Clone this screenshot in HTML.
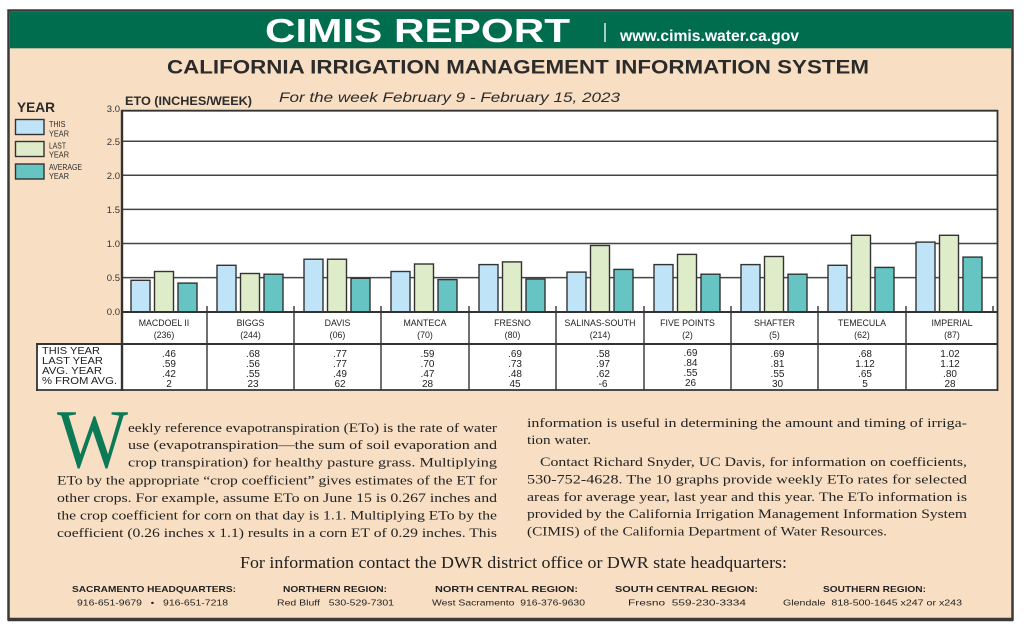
<!DOCTYPE html>
<html><head><meta charset="utf-8"><style>
html,body{margin:0;padding:0;background:#fff;}
svg{display:block;}
.s{font-family:"Liberation Sans",Arial,sans-serif;}
.r{font-family:"Liberation Serif","Times New Roman",serif;}
</style></head><body>
<svg width="1024" height="629" viewBox="0 0 1024 629" xmlns="http://www.w3.org/2000/svg">
<rect x="0" y="0" width="1024" height="629" fill="#fff"/>
<!-- frame -->
<rect x="8.5" y="10.5" width="1004" height="609" fill="#f8dfc4" stroke="#3a3a3a" stroke-width="2.5"/>
<line x1="8" y1="619.5" x2="1013" y2="619.5" stroke="#3a3a3a" stroke-width="3.5"/>
<rect x="9.8" y="11.8" width="1001.5" height="36.5" fill="#006d4f"/>
<text class="s" x="265" y="42" font-size="33" font-weight="bold" fill="#fff" textLength="305" lengthAdjust="spacingAndGlyphs">CIMIS REPORT</text>
<line x1="605" y1="23" x2="605" y2="42" stroke="#fff" stroke-width="1.3"/>
<text class="s" x="620" y="41" font-size="15.5" font-weight="bold" fill="#fff" textLength="179" lengthAdjust="spacingAndGlyphs">www.cimis.water.ca.gov</text>
<text class="s" x="167" y="73.5" font-size="19.5" font-weight="bold" fill="#2b2b2b" textLength="702" lengthAdjust="spacingAndGlyphs">CALIFORNIA IRRIGATION MANAGEMENT INFORMATION SYSTEM</text>

<!-- legend -->
<text class="s" x="17" y="112" font-size="14" font-weight="bold" fill="#2b2b2b" textLength="38" lengthAdjust="spacingAndGlyphs">YEAR</text>
<rect x="15.5" y="119.5" width="28.5" height="15" fill="#bfe3f7" stroke="#333" stroke-width="1.4"/>
<rect x="15.5" y="141.5" width="28.5" height="15" fill="#deecc9" stroke="#333" stroke-width="1.4"/>
<rect x="15.5" y="164" width="28.5" height="15" fill="#66c5c3" stroke="#333" stroke-width="1.4"/>
<g class="s" font-size="8" fill="#2b2b2b">
<text x="49" y="127" textLength="16.5" lengthAdjust="spacingAndGlyphs">THIS</text>
<text x="49" y="136.5" textLength="20" lengthAdjust="spacingAndGlyphs">YEAR</text>
<text x="49" y="148.5" textLength="17" lengthAdjust="spacingAndGlyphs">LAST</text>
<text x="49" y="157.5" textLength="20" lengthAdjust="spacingAndGlyphs">YEAR</text>
<text x="49" y="170" textLength="33" lengthAdjust="spacingAndGlyphs">AVERAGE</text>
<text x="49" y="179" textLength="20" lengthAdjust="spacingAndGlyphs">YEAR</text>
</g>

<!-- chart titles -->
<text class="s" x="125" y="105" font-size="11.6" font-weight="bold" fill="#2b2b2b" textLength="127" lengthAdjust="spacingAndGlyphs">ETO (INCHES/WEEK)</text>
<text class="s" x="279" y="101.8" font-size="14" font-style="italic" fill="#2b2b2b" textLength="341" lengthAdjust="spacingAndGlyphs">For the week February 9 - February 15, 2023</text>

<!-- plot area -->
<rect x="122" y="110.5" width="875" height="201.5" fill="#fff"/>
<rect x="122" y="312" width="876" height="32" fill="#fff"/>
<rect x="37" y="344" width="961" height="46" fill="#fff"/>
<g stroke="#444" stroke-width="1.5">
<line x1="122" y1="277.6" x2="997" y2="277.6"/>
<line x1="122" y1="243.5" x2="997" y2="243.5"/>
<line x1="122" y1="209.4" x2="997" y2="209.4"/>
<line x1="122" y1="175.3" x2="997" y2="175.3"/>
<line x1="122" y1="141.2" x2="997" y2="141.2"/>
</g>
<line x1="121" y1="110.7" x2="998" y2="110.7" stroke="#333" stroke-width="1.8"/>
<line x1="997.5" y1="110" x2="997.5" y2="391" stroke="#333" stroke-width="1.8"/>

<g class="s" font-size="9.5" fill="#333" text-anchor="end">
<text x="120" y="112">3.0</text>
<text x="120" y="145">2.5</text>
<text x="120" y="179">2.0</text>
<text x="120" y="213">1.5</text>
<text x="120" y="247">1.0</text>
<text x="120" y="281">0.5</text>
<text x="120" y="315">0.0</text>
</g>

<!-- bars -->
<g stroke="#333" stroke-width="1.4">
<rect x="131" y="280.3" width="19" height="31.4" fill="#bfe3f7"/>
<rect x="154.5" y="271.5" width="19" height="40.2" fill="#deecc9"/>
<rect x="178" y="283.1" width="19" height="28.6" fill="#66c5c3"/>
<rect x="217" y="265.3" width="19" height="46.4" fill="#bfe3f7"/>
<rect x="240.5" y="273.5" width="19" height="38.2" fill="#deecc9"/>
<rect x="264" y="274.2" width="19" height="37.5" fill="#66c5c3"/>
<rect x="304" y="259.2" width="19" height="52.5" fill="#bfe3f7"/>
<rect x="327.5" y="259.2" width="19" height="52.5" fill="#deecc9"/>
<rect x="351" y="278.3" width="19" height="33.4" fill="#66c5c3"/>
<rect x="391" y="271.5" width="19" height="40.2" fill="#bfe3f7"/>
<rect x="414.5" y="264" width="19" height="47.7" fill="#deecc9"/>
<rect x="438" y="279.6" width="19" height="32.1" fill="#66c5c3"/>
<rect x="479" y="264.6" width="19" height="47.1" fill="#bfe3f7"/>
<rect x="502.5" y="261.9" width="19" height="49.8" fill="#deecc9"/>
<rect x="526" y="279" width="19" height="32.7" fill="#66c5c3"/>
<rect x="567" y="272.1" width="19" height="39.6" fill="#bfe3f7"/>
<rect x="590.5" y="245.5" width="19" height="66.2" fill="#deecc9"/>
<rect x="614" y="269.4" width="19" height="42.3" fill="#66c5c3"/>
<rect x="654" y="264.6" width="19" height="47.1" fill="#bfe3f7"/>
<rect x="677.5" y="254.4" width="19" height="57.3" fill="#deecc9"/>
<rect x="701" y="274.2" width="19" height="37.5" fill="#66c5c3"/>
<rect x="741" y="264.6" width="19" height="47.1" fill="#bfe3f7"/>
<rect x="764.5" y="256.5" width="19" height="55.2" fill="#deecc9"/>
<rect x="788" y="274.2" width="19" height="37.5" fill="#66c5c3"/>
<rect x="828" y="265.3" width="19" height="46.4" fill="#bfe3f7"/>
<rect x="851.5" y="235.3" width="19" height="76.4" fill="#deecc9"/>
<rect x="875" y="267.4" width="19" height="44.3" fill="#66c5c3"/>
<rect x="916" y="242.1" width="19" height="69.6" fill="#bfe3f7"/>
<rect x="939.5" y="235.3" width="19" height="76.4" fill="#deecc9"/>
<rect x="963" y="257.1" width="19" height="54.6" fill="#66c5c3"/>
</g>

<!-- axes & table lines -->
<line x1="121" y1="312" x2="998" y2="312" stroke="#333" stroke-width="2"/>
<line x1="122" y1="110" x2="122" y2="391" stroke="#333" stroke-width="2.4"/>
<line x1="36" y1="344" x2="998" y2="344" stroke="#333" stroke-width="2"/>
<line x1="36" y1="390" x2="998" y2="390" stroke="#333" stroke-width="1.8"/>
<line x1="37" y1="343" x2="37" y2="391" stroke="#333" stroke-width="1.8"/>
<g stroke="#333" stroke-width="1.4">
<line x1="207" y1="306" x2="207" y2="390"/>
<line x1="294" y1="306" x2="294" y2="390"/>
<line x1="381" y1="306" x2="381" y2="390"/>
<line x1="469" y1="306" x2="469" y2="390"/>
<line x1="556" y1="306" x2="556" y2="390"/>
<line x1="644" y1="306" x2="644" y2="390"/>
<line x1="731" y1="306" x2="731" y2="390"/>
<line x1="818" y1="306" x2="818" y2="390"/>
<line x1="906" y1="306" x2="906" y2="390"/>
<line x1="993" y1="306" x2="993" y2="312"/>
</g>

<!-- station labels -->
<g class="s" font-size="8.8" fill="#222" text-anchor="middle">
<text x="164" y="326">MACDOEL II</text><text x="164" y="338">(236)</text>
<text x="250.5" y="326">BIGGS</text><text x="250.5" y="338">(244)</text>
<text x="337.5" y="326">DAVIS</text><text x="337.5" y="338">(06)</text>
<text x="425" y="326">MANTECA</text><text x="425" y="338">(70)</text>
<text x="512.5" y="326">FRESNO</text><text x="512.5" y="338">(80)</text>
<text x="600" y="326">SALINAS-SOUTH</text><text x="600" y="338">(214)</text>
<text x="687.5" y="326">FIVE POINTS</text><text x="687.5" y="338">(2)</text>
<text x="774.5" y="326">SHAFTER</text><text x="774.5" y="338">(5)</text>
<text x="862" y="326">TEMECULA</text><text x="862" y="338">(62)</text>
<text x="952" y="326">IMPERIAL</text><text x="952" y="338">(87)</text>
</g>

<!-- table labels -->
<g class="s" font-size="10.5" fill="#222">
<text x="42" y="354" textLength="58" lengthAdjust="spacingAndGlyphs">THIS YEAR</text>
<text x="42" y="364" textLength="61" lengthAdjust="spacingAndGlyphs">LAST YEAR</text>
<text x="42" y="374" textLength="60" lengthAdjust="spacingAndGlyphs">AVG. YEAR</text>
<text x="42" y="384" textLength="75" lengthAdjust="spacingAndGlyphs">% FROM AVG.</text>
</g>
<g class="s" font-size="10" fill="#222" text-anchor="middle">
<text x="169" y="357">.46</text><text x="169" y="367">.59</text><text x="169" y="377">.42</text><text x="169" y="387">2</text>
<text x="253" y="357">.68</text><text x="253" y="367">.56</text><text x="253" y="377">.55</text><text x="253" y="387">23</text>
<text x="340" y="357">.77</text><text x="340" y="367">.77</text><text x="340" y="377">.49</text><text x="340" y="387">62</text>
<text x="427.5" y="357">.59</text><text x="427.5" y="367">.70</text><text x="427.5" y="377">.47</text><text x="427.5" y="387">28</text>
<text x="515" y="357">.69</text><text x="515" y="367">.73</text><text x="515" y="377">.48</text><text x="515" y="387">45</text>
<text x="603" y="357">.58</text><text x="603" y="367">.97</text><text x="603" y="377">.62</text><text x="603" y="387">-6</text>
<text x="690.5" y="356">.69</text><text x="690.5" y="366">.84</text><text x="690.5" y="376">.55</text><text x="690.5" y="386">26</text>
<text x="777.5" y="357">.69</text><text x="777.5" y="367">.81</text><text x="777.5" y="377">.55</text><text x="777.5" y="387">30</text>
<text x="865" y="357">.68</text><text x="865" y="367">1.12</text><text x="865" y="377">.65</text><text x="865" y="387">5</text>
<text x="950" y="357">1.02</text><text x="950" y="367">1.12</text><text x="950" y="377">.80</text><text x="950" y="387">28</text>
</g>

<!-- drop cap -->
<text class="r" x="57" y="467" font-size="84" fill="#0b7a55" textLength="71" lengthAdjust="spacingAndGlyphs">W</text>
<!-- body text left -->
<g class="r" font-size="13" fill="#222">
<text x="128" y="432" textLength="369" lengthAdjust="spacingAndGlyphs">eekly reference evapotranspiration (ETo) is the rate of water</text>
<text x="128" y="449" textLength="369" lengthAdjust="spacingAndGlyphs">use (evapotranspiration—the sum of soil evaporation and</text>
<text x="128" y="466.5" textLength="369" lengthAdjust="spacingAndGlyphs">crop transpiration) for healthy pasture grass. Multiplying</text>
<text x="57" y="484.5" textLength="440" lengthAdjust="spacingAndGlyphs">ETo by the appropriate “crop coefficient” gives estimates of the ET for</text>
<text x="57" y="502" textLength="440" lengthAdjust="spacingAndGlyphs">other crops. For example, assume ETo on June 15 is 0.267 inches and</text>
<text x="57" y="519.5" textLength="440" lengthAdjust="spacingAndGlyphs">the crop coefficient for corn on that day is 1.1. Multiplying ETo by the</text>
<text x="57" y="537" textLength="440" lengthAdjust="spacingAndGlyphs">coefficient (0.26 inches x 1.1) results in a corn ET of 0.29 inches. This</text>
</g>
<!-- body text right -->
<g class="r" font-size="13" fill="#222">
<text x="527" y="427" textLength="440" lengthAdjust="spacingAndGlyphs">information is useful in determining the amount and timing of irriga-</text>
<text x="527" y="444" textLength="64" lengthAdjust="spacingAndGlyphs">tion water.</text>
<text x="540" y="466" textLength="427" lengthAdjust="spacingAndGlyphs">Contact Richard Snyder, UC Davis, for information on coefficients,</text>
<text x="527" y="483.5" textLength="440" lengthAdjust="spacingAndGlyphs">530-752-4628. The 10 graphs provide weekly ETo rates for selected</text>
<text x="527" y="501" textLength="440" lengthAdjust="spacingAndGlyphs">areas for average year, last year and this year. The ETo information is</text>
<text x="527" y="518" textLength="440" lengthAdjust="spacingAndGlyphs">provided by the California Irrigation Management Information System</text>
<text x="527" y="535.5" textLength="360" lengthAdjust="spacingAndGlyphs">(CIMIS) of the California Department of Water Resources.</text>
</g>

<!-- footer -->
<text class="r" x="240" y="568" font-size="17" fill="#222" textLength="547" lengthAdjust="spacingAndGlyphs">For information contact the DWR district office or DWR state headquarters:</text>
<g class="s" font-size="8.5" font-weight="bold" fill="#222">
<text x="72" y="592" textLength="164" lengthAdjust="spacingAndGlyphs">SACRAMENTO HEADQUARTERS:</text>
<text x="283" y="592" textLength="104" lengthAdjust="spacingAndGlyphs">NORTHERN REGION:</text>
<text x="435" y="592" textLength="143" lengthAdjust="spacingAndGlyphs">NORTH CENTRAL REGION:</text>
<text x="615" y="592" textLength="143" lengthAdjust="spacingAndGlyphs">SOUTH CENTRAL REGION:</text>
<text x="823" y="592" textLength="103" lengthAdjust="spacingAndGlyphs">SOUTHERN REGION:</text>
</g>
<g class="s" font-size="8.5" fill="#222">
<text xml:space="preserve" x="77" y="605.5" textLength="151" lengthAdjust="spacingAndGlyphs">916-651-9679   •   916-651-7218</text>
<text xml:space="preserve" x="277" y="605.5" textLength="117" lengthAdjust="spacingAndGlyphs">Red Bluff   530-529-7301</text>
<text xml:space="preserve" x="432" y="605.5" textLength="153" lengthAdjust="spacingAndGlyphs">West Sacramento  916-376-9630</text>
<text xml:space="preserve" x="628" y="605.5" textLength="118" lengthAdjust="spacingAndGlyphs">Fresno  559-230-3334</text>
<text xml:space="preserve" x="783" y="605.5" textLength="179" lengthAdjust="spacingAndGlyphs">Glendale  818-500-1645 x247 or x243</text>
</g>
</svg>
</body></html>
